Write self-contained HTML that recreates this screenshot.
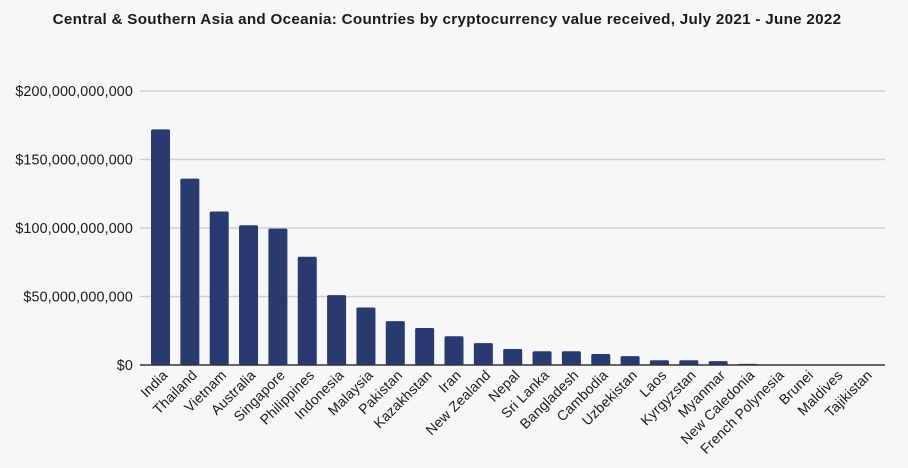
<!DOCTYPE html>
<html><head><meta charset="utf-8"><style>
body{margin:0;background:#f7f7f7;}
svg{display:block;font-family:"Liberation Sans",sans-serif;}
</style></head><body>
<svg width="908" height="468">
<rect width="908" height="468" fill="#f7f7f7"/>
<text x="447" y="24" text-anchor="middle" font-size="15.2" font-weight="bold" letter-spacing="0.3" fill="#1a1a1a">Central &amp; Southern Asia and Oceania: Countries by cryptocurrency value received, July 2021 - June 2022</text>
<g id="grid"></g><g id="bars"></g><g id="xlabels"></g>
<line x1="140" x2="885" y1="365" y2="365" stroke="#333" stroke-width="1.5"/>
</svg>
<script>
const categories=["India","Thailand","Vietnam","Australia","Singapore","Philippines","Indonesia","Malaysia","Pakistan","Kazakhstan","Iran","New Zealand","Nepal","Sri Lanka","Bangladesh","Cambodia","Uzbekistan","Laos","Kyrgyzstan","Myanmar","New Caledonia","French Polynesia","Brunei","Maldives","Tajikistan"];
const values=[172,136,112,102,99.5,79,51,42,32,27,21,16,11.7,10,10,8,6.5,3.5,3.5,2.8,0.8,0.2,0.15,0.1,0.1];
const tickValues=[0,50,100,150,200];
const tickLabels=["$0","$50,000,000,000","$100,000,000,000","$150,000,000,000","$200,000,000,000"];
const NS="http://www.w3.org/2000/svg";
const y0=365,y1=91,vmax=200;
const yScale=v=>y0-(v/vmax)*(y0-y1);
const x0=160.5,step=29.35,bw=19;
const xScale=i=>x0+i*step;
function mk(t,a,p){const e=document.createElementNS(NS,t);for(const k in a)e.setAttribute(k,a[k]);p.appendChild(e);return e;}
const grid=document.getElementById('grid');
tickValues.forEach((v,i)=>{
  const y=yScale(v);
  if(v>0){const l=mk('line',{x1:140,x2:885,y1:y,y2:y,stroke:'#cfcfcf','stroke-width':1.5},grid);
  
  }
  const t=mk('text',{x:133,y:y+5,'text-anchor':'end','font-size':14.3,'letter-spacing':0.15,fill:'#1a1a1a'},grid);
  t.textContent=tickLabels[i];
  
  
});
const bars=document.getElementById('bars'),xl=document.getElementById('xlabels');
categories.forEach((c,i)=>{
  const cx=xScale(i),y=yScale(values[i]);
  const r=mk('rect',{x:cx-bw/2,y:y,width:bw,height:Math.max(0,y0-y),fill:'#283a70',rx:1.5},bars);
  
  
  const t=mk('text',{x:cx+8,y:376,'text-anchor':'end','font-size':14,'letter-spacing':0.2,fill:'#1a1a1a',transform:`rotate(-45 ${cx+8} 376)`},xl);
  t.textContent=c;
  
  
});
</script>
</body></html>
